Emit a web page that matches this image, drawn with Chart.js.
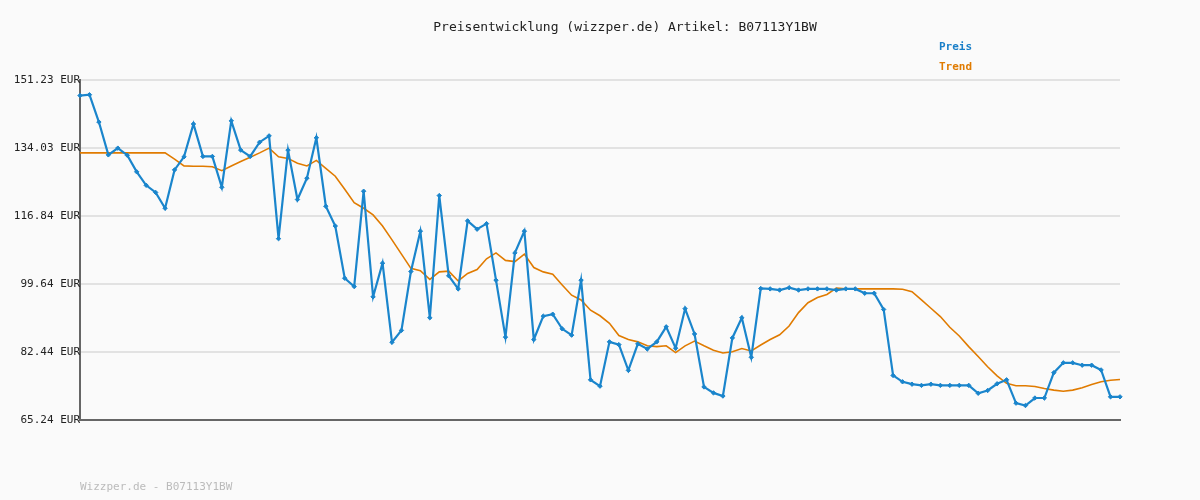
<!DOCTYPE html>
<html><head><meta charset="utf-8">
<script src="https://cdn.jsdelivr.net/npm/chart.js@4/dist/chart.umd.min.js"></script>
<style>html,body{margin:0;padding:0;background:#fafafa;}#w{width:1200px;height:500px;position:relative;}</style>
</head><body><div id="w"><canvas id="c" width="1200" height="500"></canvas></div>
<script>
const titleText = "Preisentwicklung (wizzper.de) Artikel: B07113Y1BW";
const footerText = "Wizzper.de - B07113Y1BW";
const yTicks = [65.24, 82.44, 99.64, 116.84, 134.03, 151.23];
const preis = [147.3,147.5,140.6,132.3,134.0,132.2,128.0,124.6,122.8,118.8,128.5,131.8,140.1,131.9,131.9,124.1,140.9,133.5,131.9,135.5,137.1,111.1,133.5,121.0,126.4,136.6,119.3,114.3,101.1,99.0,123.1,96.4,104.9,84.9,87.9,102.8,113.0,91.1,
122.0,101.7,98.4,115.6,113.5,114.9,100.6,86.2,107.5,113.0,85.6,91.5,92.0,88.3,86.7,100.6,75.4,73.8,85.0,84.3,77.8,84.5,83.2,85.0,88.8,83.4,93.4,87.0,73.6,72.1,71.3,86.0,91.1,81.1,98.5,98.4,
98.1,98.7,98.1,98.4,98.4,98.4,98.1,98.4,98.4,97.3,97.3,93.2,76.5,74.9,74.3,74.0,74.3,74.0,74.0,74.0,74.0,72.0,72.7,74.4,75.4,69.5,68.9,70.8,70.8,77.2,79.7,79.7,79.1,79.1,77.9,71.1,71.1];
const trend = [132.8,132.8,132.8,132.8,132.8,132.8,132.8,132.8,132.8,132.8,131.2,129.5,129.4,129.4,129.3,128.3,129.5,130.6,131.7,132.8,134.0,131.8,131.4,130.2,129.5,130.9,128.9,126.9,123.6,120.2,118.8,117.1,114.3,110.8,107.2,103.6,103.0,100.8,
102.7,102.9,100.4,102.3,103.3,106.0,107.5,105.6,105.3,107.2,103.8,102.7,102.1,99.4,96.8,95.6,93.0,91.6,89.7,86.6,85.6,85.0,84.0,83.8,84.0,82.3,84.0,85.2,84.0,82.9,82.2,82.5,83.3,82.7,84.2,85.6,
86.8,89.0,92.4,94.9,96.2,97.0,98.6,98.4,98.4,98.4,98.4,98.4,98.4,98.3,97.7,95.6,93.5,91.4,88.7,86.5,83.8,81.3,78.7,76.4,74.5,73.9,73.9,73.7,73.2,72.8,72.5,72.8,73.4,74.2,74.9,75.3,75.5];
const labels = preis.map((_, i) => String(i + 1));
const mono = "'DejaVu Sans Mono', monospace";
const deco = {
  id: 'deco',
  beforeDraw(c) { const x = c.ctx; x.save(); x.fillStyle = '#fafafa'; x.fillRect(0,0,c.width,c.height); x.restore(); },
  afterDraw(c) {
    const x = c.ctx; x.save();
    x.font = "13px " + mono; x.fillStyle = '#222'; x.textAlign = 'center'; x.textBaseline = 'middle';
    x.fillText(titleText, 625, 28);
    x.font = "bold 11px " + mono; x.textAlign = 'left';
    x.fillStyle = '#1a7fc8'; x.fillText('Preis', 939, 47);
    x.fillStyle = '#e07b00'; x.fillText('Trend', 939, 67);
    x.font = "11px " + mono; x.fillStyle = '#bbb'; x.fillText(footerText, 80, 487);
    x.restore();
  }
};
new Chart(document.getElementById('c'), {
  type: 'line',
  data: { labels, datasets: [
    { label: 'Preis', data: preis, borderColor: '#1a85cc', backgroundColor: '#1a85cc', borderWidth: 2.2, pointStyle: 'rectRot', pointRadius: 2.2, pointBorderWidth: 1, tension: 0, order: 1 },
    { label: 'Trend', data: trend, borderColor: '#e07b00', borderWidth: 1.6, pointRadius: 0, tension: 0, order: 2 }
  ]},
  options: {
    responsive: false, animation: false,
    layout: { padding: { left: 0, right: 80, top: 80, bottom: 80 } },
    plugins: { legend: { display: false }, title: { display: false }, tooltip: { enabled: false } },
    scales: {
      x: { offset: false, ticks: { display: false }, grid: { display: false, drawTicks: false }, border: { color: '#666', width: 2 }, afterFit: s => { s.height = 0; } },
      y: { min: 65.24, max: 151.23,
        afterBuildTicks: s => { s.ticks = yTicks.map(v => ({ value: v })); },
        ticks: { callback: v => v.toFixed(2) + ' EUR', font: { family: mono, size: 11 }, color: '#222', padding: 0, mirror: false },
        grid: { color: '#e2e2e2', lineWidth: 2, drawTicks: false },
        border: { color: '#666', width: 2 },
        afterFit: s => { s.width = 80; } }
    }
  },
  plugins: [deco]
});
</script></body></html>
